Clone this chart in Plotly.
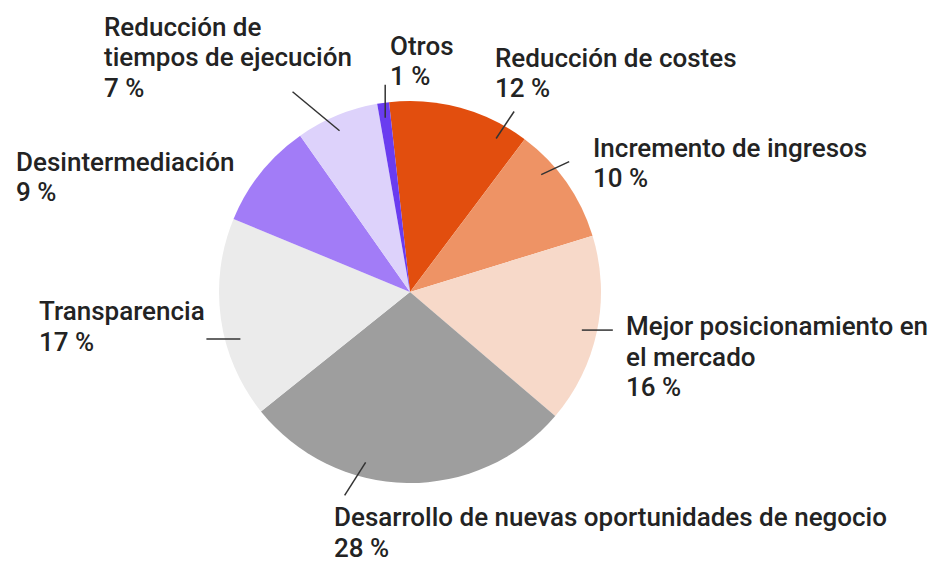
import math
import plotly.graph_objects as go

# ---- data ----
labels = [
    "Reducción de costes",
    "Incremento de ingresos",
    "Mejor posicionamiento en<br>el mercado",
    "Desarrollo de nuevas oportunidades de negocio",
    "Transparencia",
    "Desintermediación",
    "Reducción de<br>tiempos de ejecución",
    "Otros",
]
values = [12, 10, 16, 28, 17, 9, 7, 1]
colors = ["#E24E0E", "#EE9365", "#F7D9C9", "#9E9E9E", "#EBEBEB", "#A27CF7", "#DDD2FB", "#6A3CF0"]

# ---- layout / style params ----
W, H = 937, 564
CX, CY, R = 410, 292, 191          # pie centre and radius in px
ROTATION = -6.3                     # degrees, start of first slice (clockwise from top)
ANCHOR_R = 176
LINE_H = 30.5
# per-slice: angular nudge of leader line anchor, line vector (px), label offset from line end (px)
nudge = [14, -6.7, 0.8, 13.7, -7.4, 0, -1.1, 0]
line_vec = [(18, -27), (28, -13), (31, 0), (-21, 33), (-34, 0), None, (-47, -39), (0, -33)]
label_off = [(-20, -54), (23, -14), (12, -4), (-12, 22), (-168, -28), (-258, -20), (-190, -65), (4, -39)]
FONT = dict(family="Roboto, sans-serif", size=26, color="#232323", weight=500)

total = sum(values)

def px_to_paper(x, y):
    return x / W, 1 - y / H

fig = go.Figure(go.Pie(
    labels=labels, values=values, sort=False, direction="clockwise",
    rotation=ROTATION, textinfo="none", hoverinfo="label+percent",
    marker=dict(colors=colors, line=dict(width=0)),
    domain=dict(x=[(CX - R) / W, (CX + R) / W], y=[(H - CY - R) / H, (H - CY + R) / H]),
    showlegend=False,
))

shapes, annotations = [], []
cum = 0
for lab, v, nd, lv, lo in zip(labels, values, nudge, line_vec, label_off):
    mid = ROTATION + (cum + v / 2) / total * 360
    cum += v
    th = math.radians(mid + nd)
    ax_, ay_ = CX + ANCHOR_R * math.sin(th), CY - ANCHOR_R * math.cos(th)
    if lv is not None:
        ex, ey = ax_ + lv[0], ay_ + lv[1]
        x0, y0 = px_to_paper(ax_, ay_)
        x1, y1 = px_to_paper(ex, ey)
        shapes.append(dict(type="line", xref="paper", yref="paper", x0=x0, y0=y0, x1=x1, y1=y1,
                           line=dict(color="#333333", width=1.5)))
    else:
        ex, ey = ax_, ay_
    lines = lab.split("<br>") + [f"{round(v / total * 100)} %"]
    for k, txt in enumerate(lines):
        px, py = px_to_paper(ex + lo[0], ey + lo[1] + k * LINE_H)
        annotations.append(dict(text=txt, x=px, y=py, xref="paper", yref="paper",
                                xanchor="left", yanchor="middle", align="left",
                                showarrow=False, font=FONT, borderpad=0))

fig.update_layout(width=W, height=H, margin=dict(l=0, r=0, t=0, b=0),
                  paper_bgcolor="white", plot_bgcolor="white",
                  shapes=shapes, annotations=annotations)
fig.write_html("out.html", config={"displayModeBar": False},
               post_script="document.body.style.margin='0px';document.body.style.overflow='hidden';")
